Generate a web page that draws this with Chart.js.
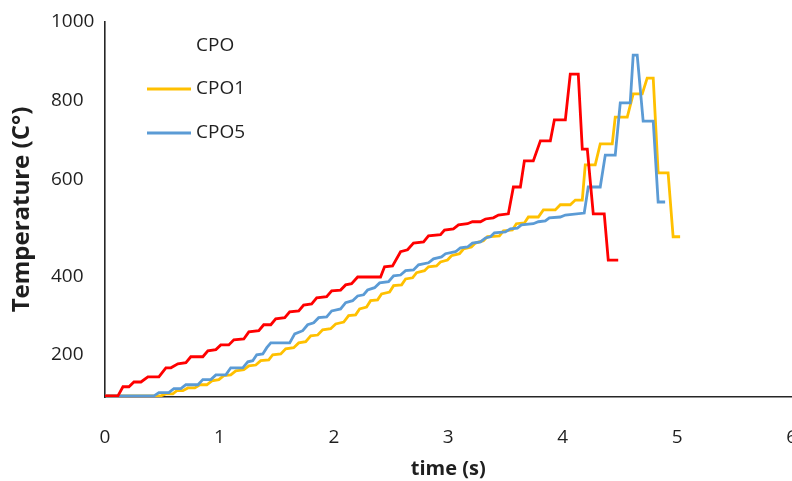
<!DOCTYPE html>
<html>
<head>
<meta charset="utf-8">
<script src="https://cdn.jsdelivr.net/npm/chart.js@4"></script>
<style>
  html, body { margin: 0; padding: 0; overflow: hidden; background: #fff; }
  /* a bit wider than the window: the "6" label is cut off at the right edge, as in the figure */
  #wrap { position: absolute; left: 0; top: 0; width: 826px; height: 481px; }
</style>
</head>
<body>
<div id="wrap"><canvas id="tempChart"></canvas></div>
<script>
// data (time in s, temperature in °C as drawn)
const cpoTime = [0, 0.113, 0.157, 0.209, 0.253, 0.314, 0.375, 0.471, 0.532, 0.576, 0.637, 0.707, 0.75, 0.855, 0.899, 0.969, 1.012, 1.082, 1.126, 1.213, 1.257, 1.344, 1.387, 1.449, 1.492, 1.571, 1.614, 1.693, 1.736, 1.806, 1.85, 1.937, 1.981, 2.059, 2.103, 2.155, 2.208, 2.408, 2.443, 2.513, 2.583, 2.644, 2.696, 2.784, 2.827, 2.932, 2.967, 3.045, 3.089, 3.168, 3.211, 3.281, 3.325, 3.394, 3.438, 3.525, 3.569, 3.63, 3.665, 3.743, 3.805, 3.892, 3.927, 4.023, 4.066, 4.136, 4.171, 4.215, 4.267, 4.363, 4.398, 4.485];
const cpoTemp = [53, 53, 76, 76, 88, 88, 101, 101, 124, 124, 134, 137, 152, 152, 167, 170, 182, 182, 195, 197, 215, 218, 233, 233, 248, 251, 266, 268, 283, 286, 301, 304, 319, 321, 334, 337, 354, 354, 380, 382, 418, 423, 440, 443, 458, 461, 473, 476, 486, 489, 494, 494, 501, 504, 511, 514, 582, 582, 648, 648, 699, 699, 752, 752, 868, 868, 678, 678, 514, 514, 397, 397];

const cpo1Time = [0, 0.489, 0.532, 0.593, 0.628, 0.681, 0.724, 0.785, 0.829, 0.89, 0.934, 0.995, 1.038, 1.099, 1.143, 1.213, 1.257, 1.318, 1.361, 1.431, 1.466, 1.536, 1.579, 1.649, 1.693, 1.754, 1.798, 1.859, 1.902, 1.972, 2.016, 2.086, 2.129, 2.19, 2.225, 2.286, 2.321, 2.382, 2.417, 2.487, 2.522, 2.592, 2.627, 2.688, 2.723, 2.792, 2.827, 2.897, 2.932, 2.993, 3.028, 3.098, 3.133, 3.202, 3.237, 3.307, 3.342, 3.447, 3.482, 3.56, 3.595, 3.665, 3.7, 3.787, 3.831, 3.935, 3.979, 4.066, 4.11, 4.171, 4.197, 4.284, 4.328, 4.433, 4.459, 4.564, 4.616, 4.695, 4.738, 4.791, 4.834, 4.921, 4.965, 5.026];
const cpo1Temp = [53, 53, 58, 58, 66, 66, 73, 73, 81, 81, 91, 94, 104, 106, 116, 119, 129, 131, 142, 144, 157, 159, 172, 175, 187, 190, 205, 207, 220, 223, 235, 240, 256, 258, 273, 278, 294, 296, 311, 316, 332, 334, 349, 352, 365, 370, 380, 382, 392, 397, 408, 413, 425, 430, 440, 446, 456, 458, 471, 473, 489, 491, 506, 506, 524, 524, 537, 537, 549, 549, 638, 638, 691, 691, 759, 759, 818, 818, 858, 858, 618, 618, 456, 456];

const cpo5Time = [0, 0.428, 0.471, 0.558, 0.602, 0.663, 0.707, 0.812, 0.855, 0.925, 0.969, 1.056, 1.099, 1.204, 1.248, 1.291, 1.326, 1.379, 1.414, 1.449, 1.614, 1.658, 1.728, 1.771, 1.824, 1.867, 1.937, 1.981, 2.059, 2.103, 2.164, 2.208, 2.26, 2.295, 2.356, 2.4, 2.478, 2.522, 2.583, 2.627, 2.696, 2.74, 2.827, 2.871, 2.941, 2.976, 3.063, 3.106, 3.168, 3.211, 3.281, 3.325, 3.368, 3.403, 3.499, 3.543, 3.604, 3.639, 3.743, 3.787, 3.848, 3.883, 3.979, 4.023, 4.188, 4.223, 4.328, 4.372, 4.459, 4.503, 4.59, 4.616, 4.651, 4.703, 4.791, 4.834, 4.895];
const cpo5Temp = [53, 53, 61, 61, 71, 71, 81, 81, 94, 94, 106, 106, 124, 124, 139, 142, 157, 159, 175, 187, 187, 210, 218, 233, 238, 251, 253, 268, 273, 289, 294, 306, 309, 321, 327, 339, 342, 357, 359, 370, 372, 385, 390, 400, 405, 413, 418, 428, 430, 440, 443, 453, 456, 466, 468, 476, 478, 486, 489, 494, 496, 504, 506, 511, 516, 582, 582, 663, 663, 795, 795, 916, 916, 749, 749, 544, 544];

// the y labels of the figure are not evenly spaced; these are the values they sit at
const yTickValues = [157, 354, 600, 800, 1000];
const yTickLabels = ["200", "400", "600", "800", "1000"];
const xTickLabels = ["0", "1", "2", "3", "4", "5", "6"];

const textColor = "#1f1f1f";
const axisColor = "#262626";

function points(times, temps) {
  return times.map((t, i) => ({ x: t, y: temps[i] }));
}

Chart.defaults.font.family = "'Open Sans', sans-serif";
Chart.defaults.color = textColor;

// legend drawn inside the plot, top left, like the original
const insideLegend = {
  id: "insideLegend",
  afterDatasetsDraw(chart, args, opts) {
    const ctx = chart.ctx;
    ctx.save();
    ctx.font = "19px 'Open Sans', sans-serif";
    ctx.fillStyle = textColor;
    ctx.textBaseline = "middle";
    chart.data.datasets.forEach((ds, i) => {
      const y = opts.rows[i];
      if (ds.legendLine !== false) {
        ctx.strokeStyle = ds.borderColor;
        ctx.lineWidth = 3;
        ctx.beginPath();
        ctx.moveTo(opts.lineX[0], y);
        ctx.lineTo(opts.lineX[1], y);
        ctx.stroke();
      }
      ctx.fillText(ds.label, opts.textX, y);
    });
    ctx.restore();
  },
};

const lineStyle = { borderWidth: 2.8, pointRadius: 0, tension: 0, fill: false };

new Chart(document.getElementById("tempChart"), {
  type: "line",
  data: {
    datasets: [
      { label: "CPO", data: points(cpoTime, cpoTemp), borderColor: "#ff0000", legendLine: false, order: 0, ...lineStyle },
      { label: "CPO1", data: points(cpo1Time, cpo1Temp), borderColor: "#ffc000", order: 2, ...lineStyle },
      { label: "CPO5", data: points(cpo5Time, cpo5Temp), borderColor: "#5b9bd5", order: 1, ...lineStyle },
    ],
  },
  options: {
    responsive: true,
    maintainAspectRatio: false,
    animation: false,
    layout: { padding: { left: 51, top: 22, right: 0, bottom: 0 } },
    plugins: {
      legend: { display: false },
      tooltip: { enabled: false },
      insideLegend: { rows: [46, 89, 133], lineX: [147, 191], textX: 196 },
    },
    scales: {
      x: {
        type: "linear",
        min: 0,
        max: 6,
        grid: { display: false, drawTicks: false },
        border: { display: true, color: axisColor, width: 1.6 },
        ticks: {
          stepSize: 1,
          padding: 29,
          font: { size: 19 },
          callback: (v) => xTickLabels[v],
        },
        title: {
          display: true,
          text: "time (s)",
          font: { size: 20, weight: "bold" },
          padding: { top: 0, bottom: 0 },
        },
        afterFit: (s) => { s.height = 84; },
      },
      y: {
        type: "linear",
        min: 50,
        max: 1000,
        grid: { display: false, drawTicks: false },
        border: { display: true, color: axisColor, width: 1.6 },
        afterBuildTicks: (s) => { s.ticks = yTickValues.map((v) => ({ value: v })); },
        ticks: {
          crossAlign: "far",
          font: { size: 19 },
          callback: (v, i) => yTickLabels[i],
        },
        title: {
          display: true,
          text: "Temperature (C°)",
          font: { size: 24, weight: "bold" },
          padding: { top: -43, bottom: 0 },
        },
        afterFit: (s) => { s.width = 54; },
      },
    },
  },
  plugins: [insideLegend],
});
</script>
</body>
</html>
